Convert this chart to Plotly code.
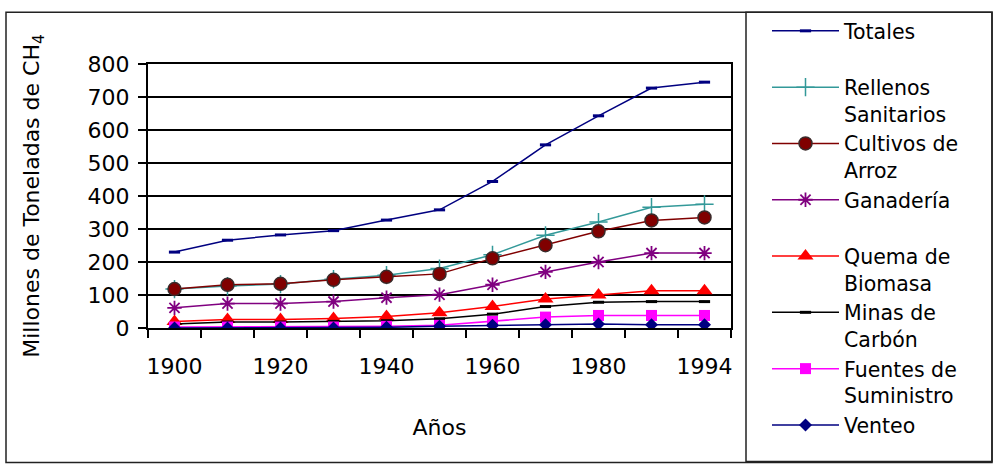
import plotly.graph_objects as go

# ---------------- data ----------------
years = ["1900", "1910", "1920", "1930", "1940", "1950", "1960", "1970", "1980", "1990", "1994"]
year_tick_text = ["1900", "", "1920", "", "1940", "", "1960", "", "1980", "", "1994"]
y_tick_vals = [0, 100, 200, 300, 400, 500, 600, 700, 800]

totales = [230, 266, 282, 295, 327, 358, 444, 555, 643, 727, 745]
rellenos = [118, 127, 133, 148, 160, 180, 222, 281, 321, 366, 375]
cultivos = [118, 131, 134, 146, 155, 164, 211, 251, 293, 326, 335]
ganaderia = [61, 74, 74, 80, 92, 101, 131, 170, 200, 227, 227]
quema = [20, 26, 26, 29, 35, 46, 65, 88, 100, 113, 113]
minas = [12, 18, 18, 20, 22, 28, 42, 65, 78, 80, 80]
fuentes = [3, 3, 3, 3, 5, 8, 20, 33, 38, 38, 38]
venteo = [0, 0, 0, 0, 2, 5, 8, 10, 12, 10, 10]

series_names = [
    "Totales<br>&nbsp;",
    "Rellenos<br>Sanitarios",
    "Cultivos de<br>Arroz",
    "Ganadería<br>&nbsp;",
    "Quema de<br>Biomasa",
    "Minas de<br>Carbón",
    "Fuentes de<br>Suministro",
    "Venteo",
]

# ---------------- layout geometry (px) ----------------
W, H = 995, 466
L, R, T, B = 148, 731, 63, 328  # plot area edges
PW, PH = R - L, B - T


def px_x(p):
    return (p - L) / PW


def px_y(p):
    return (B - p) / PH


FONT = "DejaVu Sans, Arial, sans-serif"
navy = "#000080"
teal = "#339999"
maroon = "#800000"
purple = "#800080"
red = "#FF0000"
black = "#000000"
magenta = "#FF00FF"

styles = [
    dict(line=dict(color=navy, width=1.5),
         marker=dict(symbol="line-ew", size=8, line=dict(width=3, color=navy))),
    dict(line=dict(color=teal, width=1.5),
         marker=dict(symbol="cross-thin", size=13, line=dict(width=1.5, color=teal))),
    dict(line=dict(color=maroon, width=1.5),
         marker=dict(symbol="circle", size=13, color=maroon, line=dict(width=1.5, color="#3a2a2a"))),
    dict(line=dict(color=purple, width=1.5),
         marker=dict(symbol="asterisk", size=12, line=dict(width=1.8, color=purple))),
    dict(line=dict(color=red, width=1.5),
         marker=dict(symbol="triangle-up", size=14, color=red, line=dict(width=0))),
    dict(line=dict(color=black, width=1.5),
         marker=dict(symbol="line-ew", size=8, line=dict(width=3, color=black))),
    dict(line=dict(color=magenta, width=1.5),
         marker=dict(symbol="square", size=11, color=magenta, line=dict(width=0))),
    dict(line=dict(color=navy, width=1.5),
         marker=dict(symbol="diamond", size=10, color=navy, line=dict(width=0))),
]

all_series = [totales, rellenos, cultivos, ganaderia, quema, minas, fuentes, venteo]

fig = go.Figure()
for name, vals, st in zip(series_names, all_series, styles):
    fig.add_trace(go.Scatter(x=years, y=vals, name=name, mode="lines+markers",
                             line=st["line"], marker=st["marker"]))

fig.update_layout(
    width=W, height=H,
    margin=dict(l=L, r=W - R, t=T, b=H - B, pad=0),
    paper_bgcolor="white", plot_bgcolor="white",
    font=dict(family=FONT, size=22, color="black"),
    showlegend=True,
    legend=dict(
        x=px_x(767), y=px_y(11), xanchor="left", yanchor="top",
        bgcolor="rgba(0,0,0,0)", borderwidth=0,
        font=dict(family=FONT, size=20.5, color="black"),
        valign="top", itemwidth=67, tracegroupgap=0, maxheight=1,
    ),
    xaxis=dict(
        type="category", range=[-0.5, len(years) - 0.5],
        tickmode="array", tickvals=years, ticktext=year_tick_text,
        tickson="boundaries", tickangle=0,
        ticks="outside", ticklen=8, tickwidth=2, tickcolor="black",
        showline=True, linecolor="black", linewidth=2, mirror=True,
        showgrid=False, zeroline=False,
        ticklabelstandoff=18,
        title=dict(text="Años", font=dict(family=FONT, size=22), standoff=41),
    ),
    yaxis=dict(
        range=[0, 800], tickmode="array", tickvals=y_tick_vals,
        ticks="outside", ticklen=8, tickwidth=2, tickcolor="black",
        showline=True, linecolor="black", linewidth=2, mirror=True,
        showgrid=True, gridcolor="black", gridwidth=2, zeroline=False,
        ticklabelstandoff=4,
        title=dict(text="Millones de Toneladas de CH<sub>4</sub>",
                   font=dict(family=FONT, size=22), standoff=42),
    ),
    shapes=[
        # outer chart frame
        dict(type="rect", xref="paper", yref="paper",
             x0=px_x(6), x1=px_x(992), y0=px_y(463), y1=px_y(11),
             line=dict(color="#222222", width=1.5), fillcolor="rgba(0,0,0,0)", layer="below"),
        # legend box
        dict(type="rect", xref="paper", yref="paper",
             x0=px_x(746), x1=px_x(992), y0=px_y(462), y1=px_y(11),
             line=dict(color="#222222", width=1.5), fillcolor="rgba(0,0,0,0)", layer="below"),
    ],
)

fig.write_html("out.html",
               config={"displayModeBar": False},
               post_script="document.body.style.margin='0px';document.body.style.overflow='hidden';")
